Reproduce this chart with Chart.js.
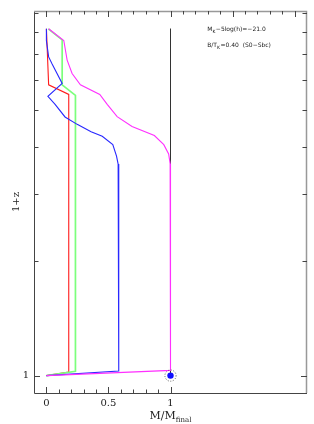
<!DOCTYPE html>
<html><head><meta charset="utf-8">
<style>html,body{margin:0;padding:0;background:#fff;}#wrap{width:314px;height:424px;position:relative}</style>
<script src="https://cdn.jsdelivr.net/npm/chart.js@4"></script>
</head><body><div id="wrap"><canvas id="c" width="314" height="424"></canvas></div>
<script>
// ---- data (M/M_final vs 1+z) ----
const redX = [0, 0.018, 0.18, 0.18, 0];
const redY = [8.17, 5.82, 5.49, 1.022, 1.0];
const greenX = [0.015, 0.127, 0.127, 0.234, 0.234, 0];
const greenY = [8.17, 7.64, 5.82, 5.46, 1.026, 1.0];
const blueX = [0, 0, 0.018, 0.046, 0.127, 0.012, 0.07, 0.15, 0.248, 0.36, 0.45, 0.535, 0.565, 0.578, 0.583, 0.583, 0];
const blueY = [8.17, 7.6, 6.89, 6.6, 5.87, 5.43, 5.17, 4.79, 4.58, 4.38, 4.26, 4.05, 3.78, 3.6, 3.46, 1.028, 1.0];
const magentaX = [0.018, 0.14, 0.167, 0.207, 0.274, 0.43, 0.49, 0.57, 0.69, 0.87, 0.946, 0.985, 0.997, 1.0, 1.0, 0];
const magentaY = [8.17, 7.61, 6.76, 6.23, 5.82, 5.49, 5.17, 4.8, 4.52, 4.28, 4.05, 3.83, 3.61, 3.47, 1.032, 1.0];
const refX = [1, 1];
const refY = [8.17, 1.0];
const finalX = [1];
const finalY = [1];
const xTickLabels = [0, 0.5, 1];
const yTickLabels = [1];
const xMinorTop = [0,0.1,0.2,0.3,0.4,0.5,0.6,0.7,0.8,0.9,1.0,1.1,1.2,1.3,1.4,1.5,1.6,1.7,1.8,1.9,2.0];
const xMinorBottom = [0,0.1,0.2,0.3,0.4,0.5,0.6,0.7,0.8,0.9,1.0];
const yMinor = [1,2,3,4,5,6,7,8,9];
const note1 = ["M", "K", "\u22125log(h)=\u221221.0"];
const note2 = ["B/T", "K", "=0.40  (S0\u2212Sbc)"];
const xTitle = ["M/M", "final"];

const pts = (xs, ys) => xs.map((v, i) => ({x: v, y: ys[i]}));

const frameTicks = {
  id: 'frameTicks',
  afterDatasetsDraw(chart) {
    const {ctx, chartArea: a, scales: {x, y}} = chart;
    ctx.save();
    // frame
    ctx.lineWidth = 1; ctx.strokeStyle = '#444';
    ctx.beginPath();
    ctx.moveTo(a.left + 0.5, a.top); ctx.lineTo(a.left + 0.5, a.bottom + 0.5); ctx.lineTo(a.right, a.bottom + 0.5);
    ctx.stroke();
    ctx.strokeStyle = '#999'; ctx.lineWidth = 1.5;
    ctx.beginPath();
    ctx.moveTo(a.left, a.top + 0.5); ctx.lineTo(a.right - 0.5, a.top + 0.5); ctx.lineTo(a.right - 0.5, a.bottom);
    ctx.stroke();
    // ticks
    ctx.strokeStyle = '#444'; ctx.lineWidth = 1;
    ctx.beginPath();
    xMinorBottom.forEach((v, i) => {
      const px = Math.round(x.getPixelForValue(v)) + 0.5;
      const len = (i % 5 === 0) ? 6 : 3.5;
      ctx.moveTo(px, a.bottom); ctx.lineTo(px, a.bottom - len);
    });
    xMinorTop.forEach((v, i) => {
      const px = Math.round(x.getPixelForValue(v)) + 0.5;
      const len = (i % 5 === 0) ? 6 : 3.5;
      ctx.moveTo(px, a.top); ctx.lineTo(px, a.top + len);
    });
    yMinor.forEach((v) => {
      const py = Math.round(y.getPixelForValue(v)) + 0.5;
      const len = v === 1 ? 6 : 4.5;
      ctx.moveTo(a.left, py); ctx.lineTo(a.left + len, py);
      ctx.moveTo(a.right, py); ctx.lineTo(a.right - len, py);
    });
    ctx.stroke();
    // dotted ring around final point
    const cx = x.getPixelForValue(finalX[0]), cy = y.getPixelForValue(finalY[0]);
    ctx.setLineDash([1, 1.6]); ctx.strokeStyle = '#555'; ctx.lineWidth = 0.9;
    ctx.beginPath(); ctx.arc(cx, cy, 5.6, 0, Math.PI * 2); ctx.stroke();
    ctx.setLineDash([]);
    // annotations
    const drawSub = (parts, px, py, f1, f2, dy) => {
      ctx.font = f1; ctx.fillText(parts[0], px, py);
      let w = ctx.measureText(parts[0]).width;
      ctx.font = f2; ctx.fillText(parts[1], px + w, py + dy);
      w += ctx.measureText(parts[1]).width;
      ctx.font = f1; ctx.fillText(parts[2], px + w + 0.5, py);
    };
    ctx.fillStyle = '#222'; ctx.textBaseline = 'alphabetic'; ctx.textAlign = 'left';
    const ax = x.getPixelForValue(1.296);
    drawSub(note1, ax, y.getPixelForValue(8.17) + 2.5, '6px "DejaVu Sans"', '4.5px "DejaVu Sans"', 1.5);
    drawSub(note2, ax, y.getPixelForValue(7.42) + 2.5, '6px "DejaVu Sans"', '4.5px "DejaVu Sans"', 1.5);
    // x title with subscript
    ctx.font = '11px "DejaVu Serif"';
    const w1 = ctx.measureText(xTitle[0]).width;
    ctx.font = '7px "DejaVu Serif"';
    const w2 = ctx.measureText(xTitle[1]).width;
    const tx = (a.left + a.right) / 2 - (w1 + w2) / 2;
    ctx.font = '11px "DejaVu Serif"'; ctx.fillText(xTitle[0], tx, 419);
    ctx.font = '7px "DejaVu Serif"'; ctx.fillText(xTitle[1], tx + w1, 422);
    ctx.restore();
  }
};

const line = (xs, ys, color, w) => ({
  data: pts(xs, ys), borderColor: color, borderWidth: w, pointRadius: 0,
  tension: 0, fill: false, showLine: true
});

new Chart(document.getElementById('c'), {
  type: 'line',
  data: {
    datasets: [
      {data: pts(finalX, finalY), showLine: false, pointRadius: 3.2, pointBackgroundColor: '#1010ff', pointBorderWidth: 0, borderColor: '#1010ff'},
      line(magentaX, magentaY, '#ff30ff', 1.1),
      line(blueX, blueY, '#2828ff', 1.1),
      line(greenX, greenY, '#7cff7c', 1.7),
      line(redX, redY, '#ff1a1a', 1.1),
      line(refX, refY, '#333333', 1)
    ]
  },
  options: {
    responsive: false, animation: false, devicePixelRatio: 1,
    layout: {padding: {top: 5, right: 7, left: 0, bottom: 0}},
    plugins: {legend: {display: false}, tooltip: {enabled: false}},
    scales: {
      x: {
        type: 'linear', min: -0.1, max: 2.1,
        grid: {display: false, drawTicks: false}, border: {display: false},
        afterBuildTicks: s => { s.ticks = xTickLabels.map(v => ({value: v})); },
        afterFit: s => { s.height = 31; },
        ticks: {padding: 4, color: '#222', font: {family: 'DejaVu Serif', size: 10}, callback: v => String(v), maxRotation: 0, autoSkip: false}
      },
      y: {
        type: 'logarithmic', min: 0.9, max: 9.1,
        grid: {display: false, drawTicks: false}, border: {display: false},
        afterBuildTicks: s => { s.ticks = yTickLabels.map(v => ({value: v})); },
        afterFit: s => { s.width = 34; },
        ticks: {padding: 5, color: '#222', font: {family: 'DejaVu Serif', size: 10}, callback: v => String(v), autoSkip: false},
        title: {display: true, text: '1+z', color: '#222', font: {family: 'DejaVu Serif', size: 10}, padding: {top: 10, bottom: 0}}
      }
    }
  },
  plugins: [frameTicks]
});
</script></body></html>
